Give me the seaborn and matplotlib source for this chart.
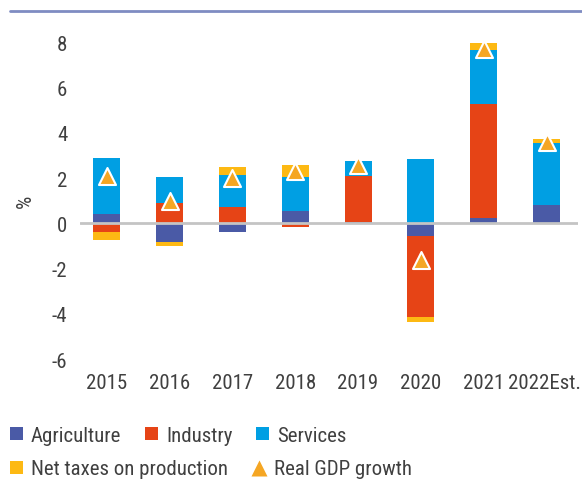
import numpy as np
import pandas as pd
import matplotlib
matplotlib.use("Agg")
import matplotlib.pyplot as plt
from matplotlib import font_manager
from matplotlib.lines import Line2D
from matplotlib.patches import Patch
from matplotlib.transforms import ScaledTranslation
import seaborn as sns

# Contributions to real GDP growth (percentage points)
years = ["2015", "2016", "2017", "2018", "2019", "2020", "2021", "2022Est."]
agriculture = [0.40, -0.80, -0.38, 0.53, 0.05, -0.56, 0.23, 0.80]
industry = [-0.40, 0.88, 0.71, -0.16, 2.04, -3.56, 5.06, 0.00]
services = [2.47, 1.15, 1.41, 1.50, 0.65, 2.83, 2.35, 2.73]
net_taxes = [-0.35, -0.20, 0.35, 0.53, 0.00, -0.25, 0.31, 0.18]
real_gdp = [2.10, 1.00, 2.00, 2.30, 2.60, -1.60, 7.70, 3.60]

component_names = ["Agriculture", "Industry", "Services", "Net taxes on production"]
component_values = [agriculture, industry, services, net_taxes]
colors = ["#4a5aa6", "#e64416", "#009fe3", "#fdb913"]
gdp_color = "#f5a623"
text_color = "#404040"

sns.set_theme(style="white")

available = {f.name for f in font_manager.fontManager.ttflist}
family = next((f for f in ["Liberation Sans Narrow", "Roboto Condensed", "DejaVu Sans"]
               if f in available), "DejaVu Sans")
plt.rcParams["font.family"] = [family, "DejaVu Sans"]
plt.rcParams["text.color"] = text_color

fig = plt.figure(figsize=(5.82, 4.81), dpi=100)
ax = fig.add_axes([0.137, 0.251, 0.856, 0.659])

# Stack positives upward and negatives downward in component order
pos_base = np.zeros(len(years))
neg_base = np.zeros(len(years))
for name, vals, col in zip(component_names, component_values, colors):
    vals = np.asarray(vals, dtype=float)
    bottom = np.where(vals >= 0, pos_base, neg_base)
    df = pd.DataFrame({"year": years, "value": vals})
    sns.barplot(data=df, x="year", y="value", order=years, color=col,
                width=0.43, bottom=bottom, saturation=1, ax=ax,
                linewidth=0, errorbar=None)
    pos_base = pos_base + np.where(vals >= 0, vals, 0)
    neg_base = neg_base + np.where(vals < 0, vals, 0)

gdp_df = pd.DataFrame({"year": years, "gdp": real_gdp})
sns.scatterplot(data=gdp_df, x="year", y="gdp", marker="^", s=150,
                color=gdp_color, edgecolor="white", linewidth=1.5,
                zorder=5, ax=ax)

ax.axhline(0, color="#c4c4c4", linewidth=2, zorder=1)

ax.set_xlim(-0.43, 7.5)
ax.set_ylim(-6, 8)
ax.set_yticks(np.arange(-6, 9, 2))
ax.set_yticklabels([str(v) for v in range(-6, 9, 2)])
ax.set_xlabel("")
ax.set_ylabel("%", fontsize=15, color=text_color, labelpad=12)
ax.tick_params(axis="both", length=0, labelsize=15, labelcolor=text_color)
ax.tick_params(axis="y", pad=9)
ax.tick_params(axis="x", pad=10)
for s in ax.spines.values():
    s.set_visible(False)
ax.grid(False)

# Nudge the last, longest category label a little to the left
last = ax.get_xticklabels()[-1]
last.set_transform(last.get_transform() + ScaledTranslation(-2 / 100, 0, fig.dpi_scale_trans))

# Decorative rule across the top of the figure
fig.add_artist(Line2D([10 / 582, 1.0], [1 - 12 / 481] * 2,
                      transform=fig.transFigure, color="#7f8cc2", linewidth=2))

row1 = [Patch(facecolor=c, edgecolor="none") for c in colors[:3]]
row2 = [Patch(facecolor=colors[3], edgecolor="none"),
        Line2D([], [], marker="^", linestyle="none", markersize=11,
               markerfacecolor=gdp_color, markeredgecolor="none")]

leg_kw = dict(frameon=False, fontsize=15, handlelength=0.6, handleheight=0.6,
              handletextpad=0.4, borderaxespad=0, borderpad=0,
              labelcolor=text_color)
leg1 = fig.legend(row1, component_names[:3], ncol=3, loc="center left",
                  bbox_to_anchor=(10 / 582, 1 - 436 / 481), columnspacing=1.15,
                  **leg_kw)
leg2 = fig.legend(row2, [component_names[3], "Real GDP growth"], ncol=2,
                  loc="center left", bbox_to_anchor=(10 / 582, 1 - 470 / 481),
                  columnspacing=1.2, **leg_kw)

fig.savefig("out.png", dpi=100)
